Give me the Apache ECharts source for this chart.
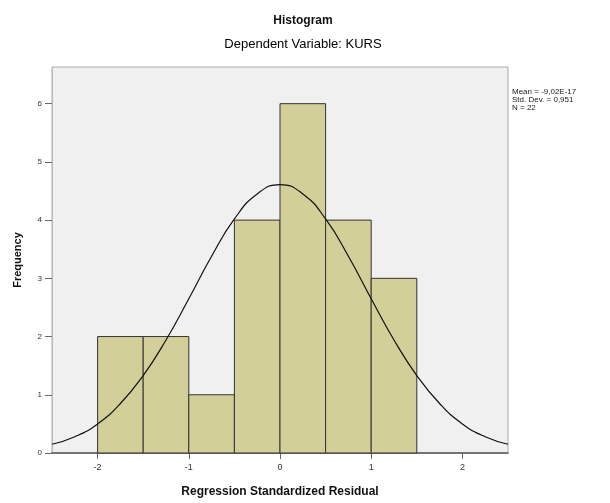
<!DOCTYPE html>
<html>
<head>
<meta charset="utf-8">
<script src="https://cdn.jsdelivr.net/npm/echarts@6/dist/echarts.min.js"></script>
<style>
  html, body { margin: 0; padding: 0; background: #fff; }
  #chart { width: 610px; height: 503px; }
</style>
</head>
<body>
<div id="chart"></div>
<script>
// bins of the histogram (lower edge, upper edge) and counts
const binStart = [-2, -1.5, -1, -0.5, 0, 0.5, 1];
const binEnd = [-1.5, -1, -0.5, 0, 0.5, 1, 1.5];
const counts = [2, 2, 1, 4, 6, 4, 3];

// normal curve
const curveX = [-2.5, -2.25, -2, -1.75, -1.5, -1.25, -1, -0.75, -0.5, -0.25, 0,
  0.25, 0.5, 0.75, 1, 1.25, 1.5, 1.75, 2, 2.25, 2.5];
const curveY = [0.15, 0.28, 0.5, 0.85, 1.33, 1.94, 2.65, 3.38, 4.02, 4.45, 4.61,
  4.45, 4.02, 3.38, 2.65, 1.94, 1.33, 0.85, 0.5, 0.28, 0.15];

const xTicks = [-2, -1, 0, 1, 2];
const yTicks = [0, 1, 2, 3, 4, 5, 6];

const statLines = ['Mean = -9,02E-17', 'Std. Dev. = 0,951', 'N = 22'];

const chart = echarts.init(document.getElementById('chart'));

const barData = binStart.map((s, i) => [s, binEnd[i], counts[i]]);
const lineData = curveX.map((x, i) => [x, curveY[i]]);

let option = {
  animation: false,
  title: [
    {
      text: 'Histogram',
      left: 298, top: 10, textAlign: 'center',
      textStyle: { fontFamily: 'Liberation Sans', fontSize: 12, fontWeight: 'bold', color: '#111' }
    },
    {
      text: 'Dependent Variable: KURS',
      left: 298, top: 33, textAlign: 'center',
      textStyle: { fontFamily: 'Liberation Sans', fontSize: 13, fontWeight: 'normal', color: '#000' }
    }
  ],
  graphic: statLines.map((t, i) => ({
    type: 'text',
    left: 512,
    top: 88 + i * 8,
    style: { text: t, font: '8px "Liberation Sans"', fill: '#222' }
  })),
  grid: {
    left: 52, right: 102, top: 67, bottom: 50,
    show: true,
    backgroundColor: '#f0f0f0',
    borderColor: '#aaa',
    borderWidth: 1
  },
  xAxis: {
    type: 'value',
    min: -2.5,
    max: 2.5,
    name: 'Regression Standardized Residual',
    nameLocation: 'middle',
    nameGap: 33,
    nameTextStyle: { fontFamily: 'Liberation Sans', fontSize: 12, fontWeight: 'bold', color: '#111' },
    axisLine: { onZero: false, lineStyle: { color: '#555', width: 1.5 } },
    axisTick: { customValues: xTicks, length: 6, lineStyle: { color: '#666' } },
    axisLabel: { customValues: xTicks, fontFamily: 'Liberation Sans', fontSize: 9, color: '#333', margin: 10 },
    splitLine: { show: false }
  },
  yAxis: {
    type: 'value',
    min: 0,
    max: 6.63,
    name: 'Frequency',
    nameLocation: 'middle',
    nameGap: 29,
    nameTextStyle: { fontFamily: 'Liberation Sans', fontSize: 11, fontWeight: 'bold', color: '#111' },
    axisLine: { show: true, onZero: false, lineStyle: { color: '#bbb' } },
    axisTick: { show: true, customValues: yTicks, length: 7, lineStyle: { color: '#666' } },
    axisLabel: { customValues: yTicks, fontFamily: 'Liberation Sans', fontSize: 8, color: '#333', margin: 10 },
    splitLine: { show: false }
  },
  series: [
    {
      type: 'custom',
      data: barData,
      renderItem: function (params, api) {
        const p0 = api.coord([api.value(0), 0]);
        const p1 = api.coord([api.value(1), api.value(2)]);
        return {
          type: 'rect',
          shape: { x: p0[0], y: p1[1], width: p1[0] - p0[0], height: p0[1] - p1[1] },
          style: { fill: '#d3cf98', stroke: '#333', lineWidth: 1 }
        };
      },
      encode: { x: [0, 1], y: 2 },
      z: 2
    },
    {
      type: 'line',
      data: lineData,
      smooth: true,
      symbol: 'none',
      lineStyle: { color: '#111', width: 1.2 },
      z: 3
    }
  ]
};

chart.setOption(option);
</script>
</body>
</html>
